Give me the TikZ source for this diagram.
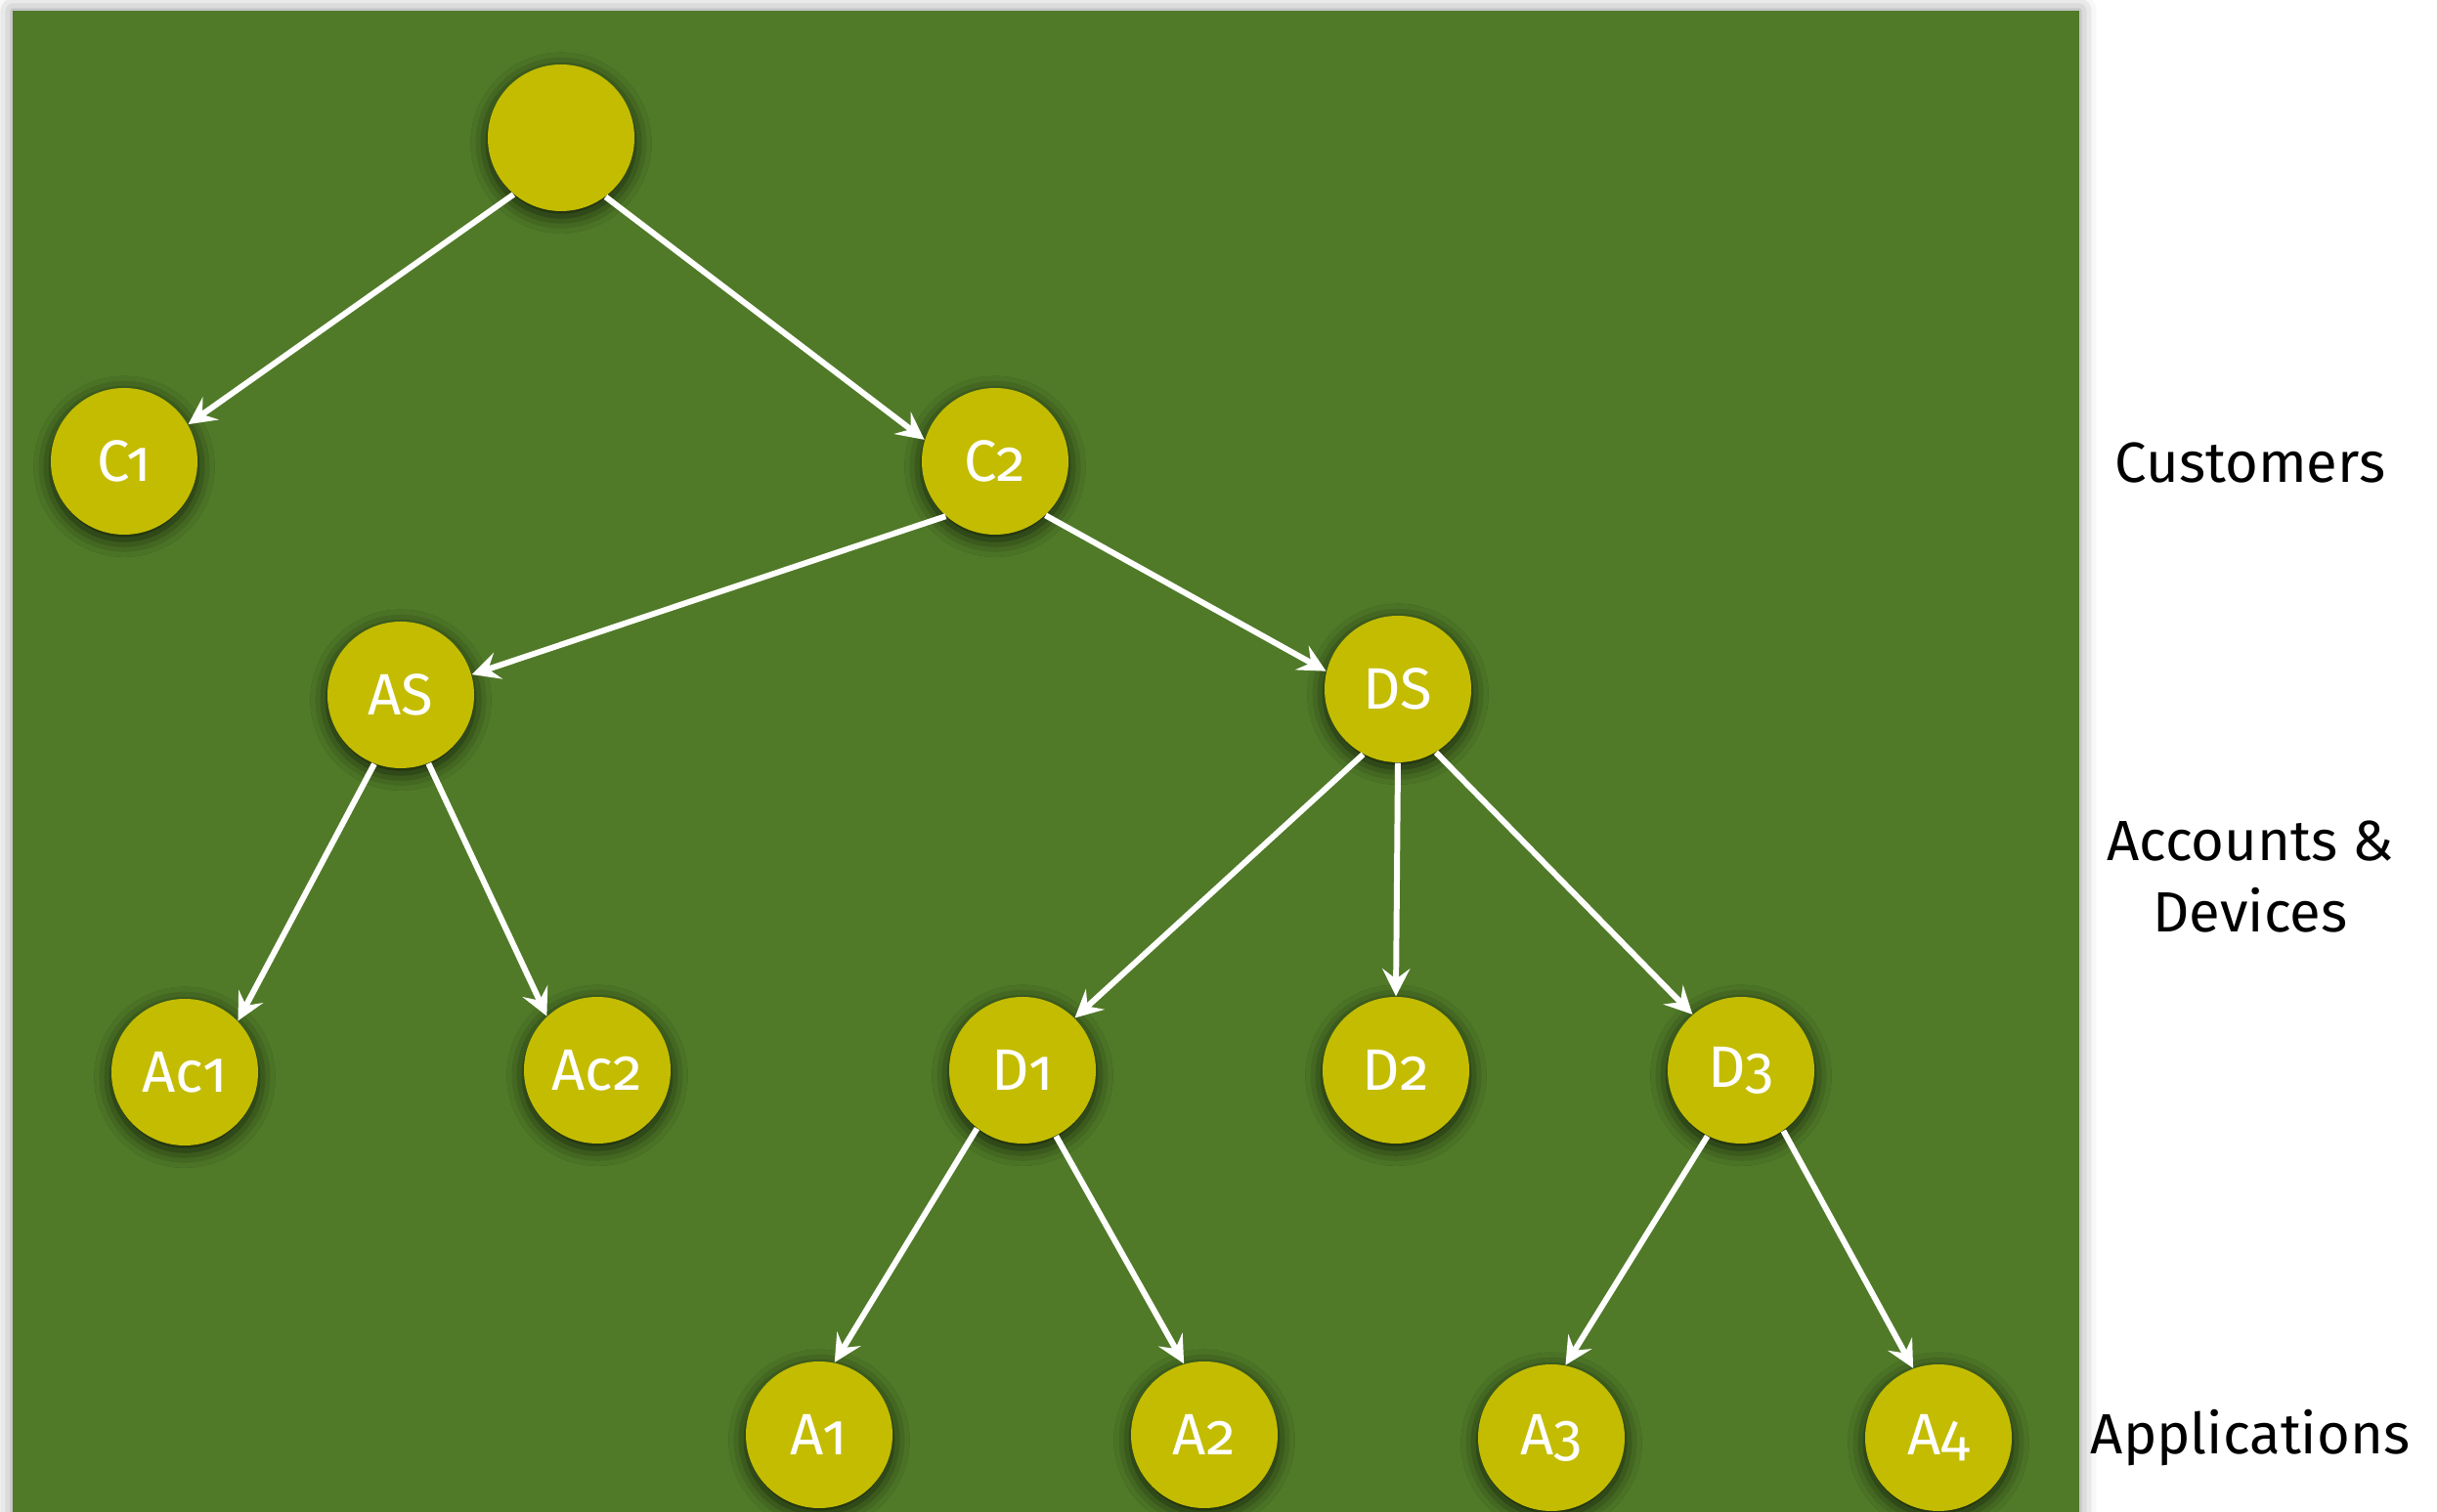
\documentclass[tikz,border=0pt]{standalone}
\usepackage{fontspec}
\setmainfont{Fira Sans}[Numbers=OldStyle]
\usetikzlibrary{arrows.meta,shadows.blur}

\definecolor{panelgreen}{HTML}{507A28}
\definecolor{nodeyellow}{HTML}{C4BC00}

\tikzset{
  treenode/.style={circle,fill=nodeyellow,minimum size=1.5cm,inner sep=0pt,
    text=white,font=\fontsize{17}{20}\selectfont,
    blur shadow={shadow xshift=0pt,shadow yshift=-1.5pt,shadow blur radius=5pt,shadow opacity=80}},
  link/.style={->,white,line width=1.7pt},
  level/.style={font=\fontsize{16.5}{21}\selectfont,align=center}
}

\begin{document}
\begin{tikzpicture}[x=1cm,y=1cm,>={Stealth[length=8pt,width=8pt,inset=3pt]}]
  \useasboundingbox (0,0) rectangle (24.93,15.47);
  \fill[panelgreen,blur shadow={shadow xshift=0pt,shadow yshift=0pt,shadow blur radius=5pt,shadow opacity=45}]
    (0.13,-0.3) rectangle (21.27,15.36);

  % tree
  \node[treenode] (root) at (5.74,14.06) {};
  \node[treenode] (c1) at (1.27,10.75) {C1};
  \node[treenode] (c2) at (10.18,10.75) {C2};
  \node[treenode] (as) at (4.10,8.36) {AS};
  \node[treenode] (ds) at (14.30,8.42) {DS};
  \node[treenode] (ac1) at (1.89,4.50) {Ac1};
  \node[treenode] (ac2) at (6.11,4.52) {Ac2};
  \node[treenode] (d1) at (10.46,4.52) {D1};
  \node[treenode] (d2) at (14.28,4.52) {D2};
  \node[treenode] (d3) at (17.81,4.52) {D3};
  \node[treenode] (a1) at (8.38,0.79) {A1};
  \node[treenode] (a2) at (12.32,0.79) {A2};
  \node[treenode] (a3) at (15.87,0.76) {A3};
  \node[treenode] (a4) at (19.83,0.76) {A4};

  \draw[link] (root.230) -- (c1.30);
  \draw[link] (root.307) -- (c2.163);
  \draw[link] (c2.228) -- (as.16);
  \draw[link] (c2.313) -- (ds.166);
  \draw[link] (as.249) -- (ac1.44);
  \draw[link] (as.292) -- (ac2.133);
  \draw[link] (ds.242) -- (d1.45);
  \draw[link] (ds.270) -- (d2.90);
  \draw[link] (ds.301) -- (d3.131);
  \draw[link] (d1.232) -- (a1.78);
  \draw[link] (d1.297) -- (a2.106);
  \draw[link] (d3.243) -- (a3.79);
  \draw[link] (d3.305) -- (a4.110);

  % levels
  \node[level] (customers) at (23.02,10.73) {Customers};
  \node[level] (accounts) at (23.02,6.50) {Accounts \&\\Devices};
  \node[level] (apps) at (23.02,0.76) {Applications};
\end{tikzpicture}
\end{document}
